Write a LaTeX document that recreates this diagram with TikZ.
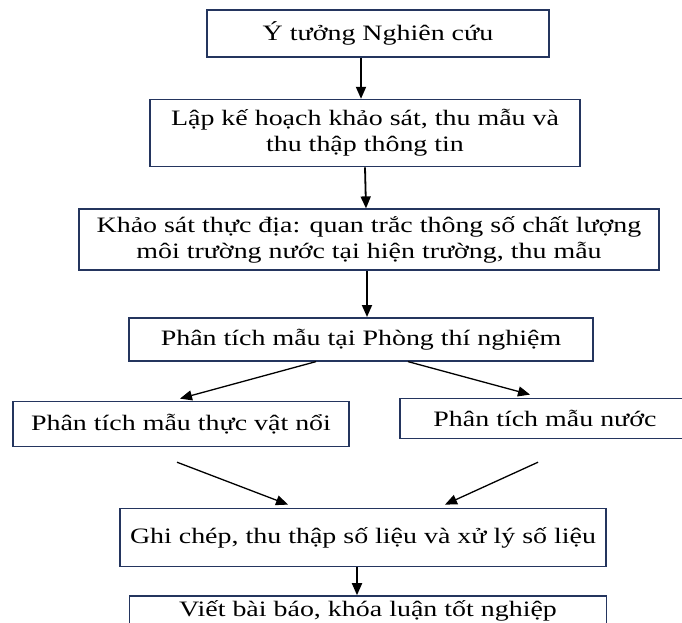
\documentclass[tikz,border=0pt]{standalone}
\usepackage{fontspec}
\setmainfont{Liberation Serif}[FakeStretch=1.27]
\usetikzlibrary{arrows.meta,positioning}
\definecolor{boxline}{HTML}{24355E}

\begin{document}
\begin{tikzpicture}[x=1pt,y=1pt,>={Triangle[length=12pt,width=10pt]},
                    box/.style={draw=boxline,line width=1.6pt,align=center,inner sep=0pt,
                                font=\fontsize{22}{26}\selectfont},
                    flow/.style={->,line width=1.8pt},
                    side/.style={->,line width=1.3pt}]
  \useasboundingbox (0,0) rectangle (682,-622);

  \node[box,minimum width=342pt,minimum height=47pt] (idea) at (378,-33.5) {Ý tưởng Nghiên cứu};
  \node[box,minimum width=430pt,minimum height=67pt] (plan) [below=41pt of idea,xshift=-13pt]
       {Lập kế hoạch khảo sát, thu mẫu và\\thu thập thông tin};
  \node[box,minimum width=580pt,minimum height=61pt] (survey) [below=41pt of plan,xshift=4pt]
       {Khảo sát thực địa: quan trắc thông số chất lượng\\môi trường nước tại hiện trường, thu mẫu};
  \node[box,minimum width=464pt,minimum height=43pt] (lab) [below=46pt of survey,xshift=-8pt]
       {Phân tích mẫu tại Phòng thí nghiệm};
  \node[box,minimum width=336pt,minimum height=45pt] (phyto) [below=39pt of lab,xshift=-180pt]
       {Phân tích mẫu thực vật nổi};
  \node[box,minimum width=290pt,minimum height=40pt] (water) [below=36pt of lab,xshift=184pt]
       {Phân tích mẫu nước};
  \node[box,minimum width=486pt,minimum height=58pt] (data) [below=146pt of lab,xshift=2pt]
       {Ghi chép, thu thập số liệu và xử lý số liệu};
  \node[box,minimum width=477pt,minimum height=30pt] (report) [below=28pt of data,xshift=5pt]
       {Viết bài báo, khóa luận tốt nghiệp};

  \path ([xshift=-17pt]idea.south)  edge[flow] ([xshift=-4pt]plan.north);
  \path (plan.south)                edge[flow] ([xshift=-3pt]survey.north);
  \path ([xshift=-2pt]survey.south) edge[flow] ([xshift=6pt]lab.north);
  \path ([xshift=-45pt]lab.south)   edge[side] ([xshift=-1pt,yshift=2pt]phyto.north);
  \path ([xshift=47pt]lab.south)    edge[side] ([xshift=-15pt,yshift=3pt]water.north);
  \path ([xshift=-4pt,yshift=-15pt]phyto.south) edge[side] ([xshift=-75pt,yshift=3pt]data.north);
  \path ([xshift=-7pt,yshift=-23pt]water.south) edge[side] ([xshift=82pt,yshift=3pt]data.north);
  \path ([xshift=-6pt]data.south)   edge[flow] ([xshift=-11pt]report.north);
\end{tikzpicture}
\end{document}
